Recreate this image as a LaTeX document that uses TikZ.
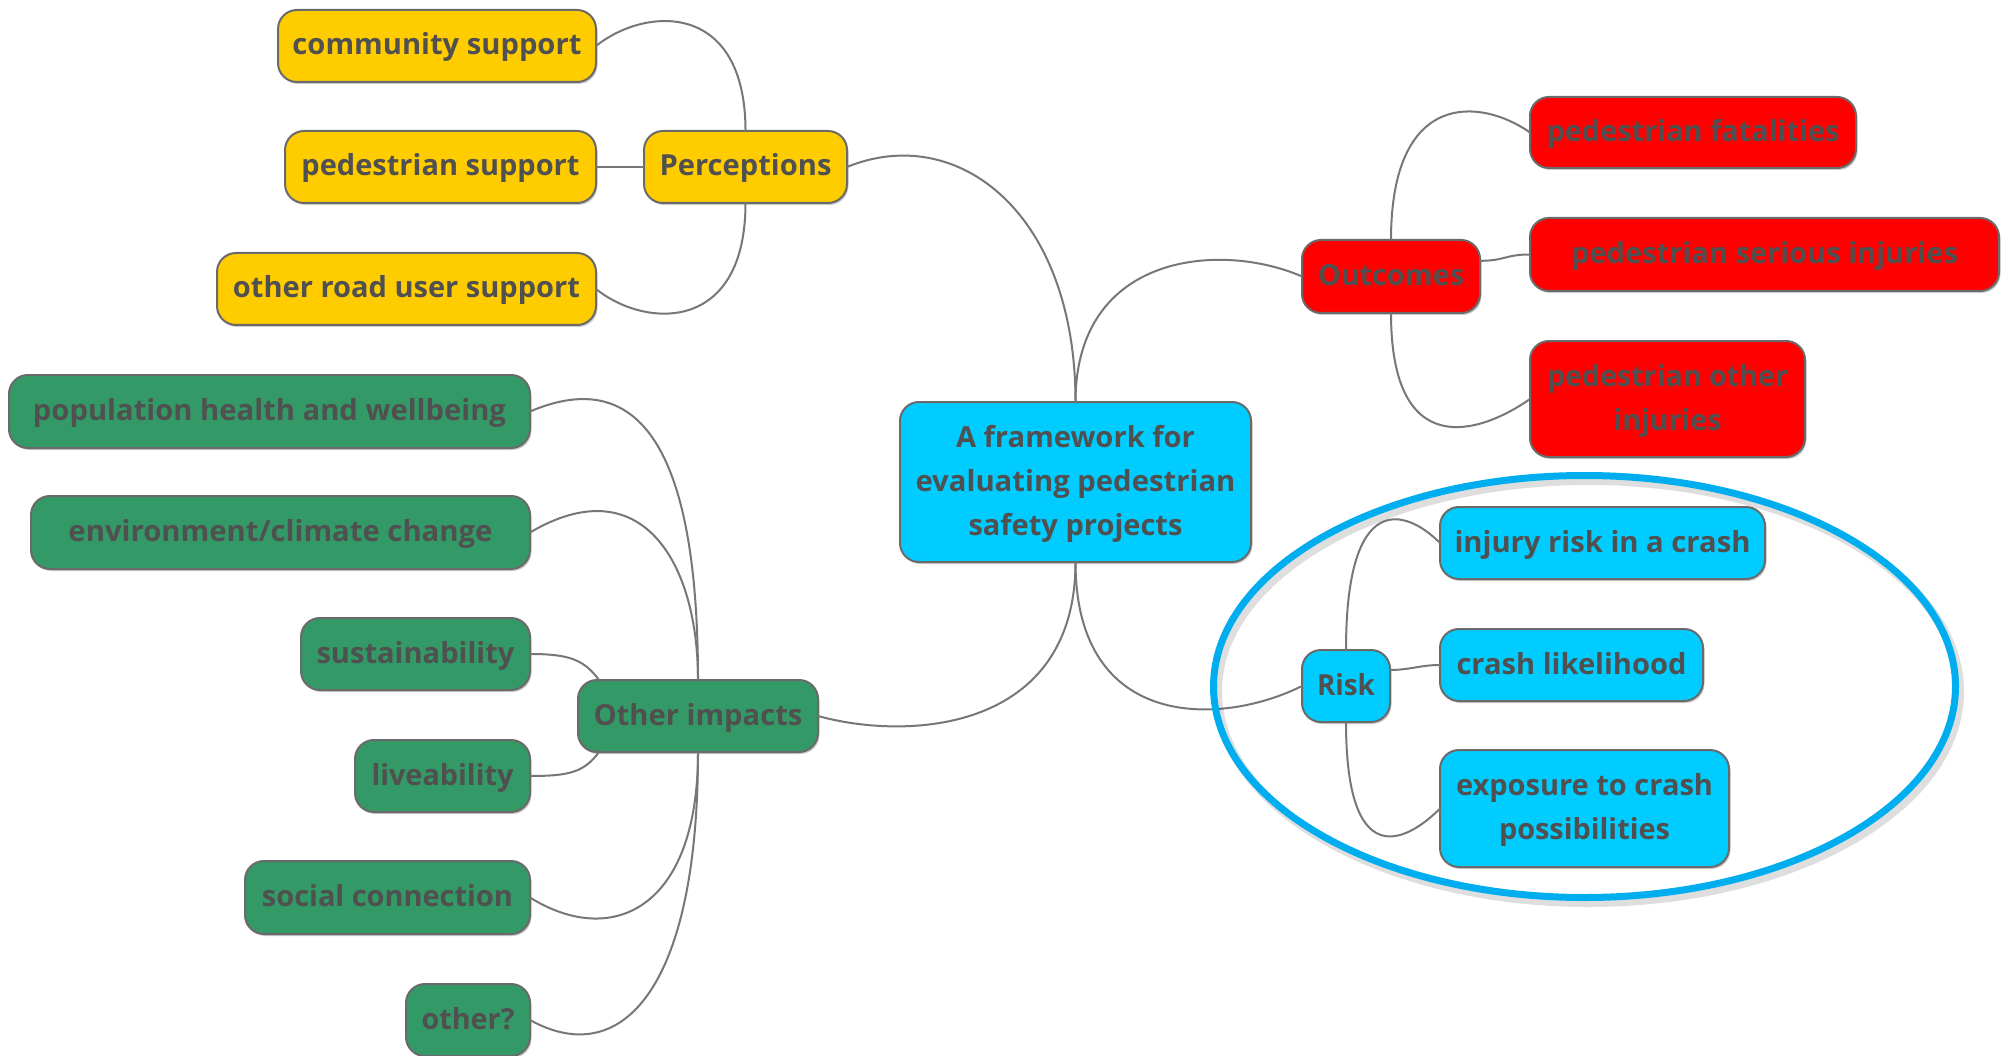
\documentclass[tikz,border=0pt]{standalone}
\usepackage{fontspec}
\usepackage{graphicx}
\setmainfont{Open Sans}
\usetikzlibrary{shapes.geometric,shadows}

\definecolor{ylw}{HTML}{FFCC00}
\definecolor{rd}{HTML}{FF0000}
\definecolor{cyn}{HTML}{00CCFF}
\definecolor{grn}{HTML}{339966}
\definecolor{boxedge}{HTML}{6A6A6A}
\definecolor{txt}{HTML}{505050}
\definecolor{linkcol}{HTML}{777777}
\definecolor{ringcol}{HTML}{00AEEF}

% set a line of text to a given width (horizontal scaling only)
\newcommand{\fitw}[2]{\resizebox{#1pt}{\height}{#2}}

\tikzset{
  topic/.style={draw=boxedge, line width=2pt, rounded corners=19pt,
    text=txt, font=\bfseries\fontsize{29}{44}\selectfont, align=center,
    inner sep=0pt, outer sep=0pt, text height=24pt, text depth=6pt,
    drop shadow={shadow xshift=1.5pt, shadow yshift=-2pt, opacity=0.2, fill=black}},
  twolines/.style={text height=68pt},
  threelines/.style={text height=112pt},
  yellowbox/.style={topic, fill=ylw},
  redbox/.style={topic, fill=rd},
  cyanbox/.style={topic, fill=cyn},
  greenbox/.style={topic, fill=grn},
  link/.style={draw=linkcol, line width=2pt},
}

\begin{document}
\begin{tikzpicture}[x=1pt, y=-1pt]
\clip (0,0) rectangle (2001,1056);
\fill[white] (0,0) rectangle (2001,1056);

% central topic
\node[cyanbox, threelines, minimum width=351pt, minimum height=160pt] (ctr) at (1075.5,482)
  {\fitw{239}{A framework for}\\\fitw{320}{evaluating pedestrian}\\\fitw{214}{safety projects}};

% perceptions branch
\node[yellowbox, minimum width=203pt, minimum height=72pt] (per) at (745.5,167) {\fitw{172}{Perceptions}};
\node[yellowbox, minimum width=318pt, minimum height=72pt] (cs) at (437,46) {\fitw{289}{community support}};
\node[yellowbox, minimum width=311pt, minimum height=72pt] (ps) at (440.5,167) {\fitw{278}{pedestrian support}};
\node[yellowbox, minimum width=379pt, minimum height=72pt] (ors) at (406.5,289) {\fitw{347}{other road user support}};

% outcomes branch
\node[redbox, minimum width=178pt, minimum height=73pt] (out) at (1391,276.5) {\fitw{146}{Outcomes}};
\node[redbox, minimum width=326pt, minimum height=71pt] (fat) at (1693,132.5) {\fitw{293}{pedestrian fatalities}};
\node[redbox, minimum width=469pt, minimum height=73pt] (ser) at (1764.5,254.5) {\fitw{387}{pedestrian serious injuries}};
\node[redbox, twolines, minimum width=275pt, minimum height=116pt] (oth) at (1667.5,399)
  {\fitw{241}{pedestrian other}\\\fitw{108}{injuries}};

% risk branch
\node[cyanbox, minimum width=88pt, minimum height=72pt] (risk) at (1346,686) {\fitw{58}{Risk}};
\node[cyanbox, minimum width=325pt, minimum height=72pt] (inj) at (1602.5,543) {\fitw{296}{injury risk in a crash}};
\node[cyanbox, minimum width=263pt, minimum height=72pt] (lik) at (1571.5,665) {\fitw{230}{crash likelihood}};
\node[cyanbox, twolines, minimum width=289pt, minimum height=117pt] (expo) at (1584.5,808.5)
  {\fitw{257}{exposure to crash}\\\fitw{171}{possibilities}};

% other impacts branch
\node[greenbox, minimum width=240pt, minimum height=72pt] (oi) at (698,716) {\fitw{209}{Other impacts}};
\node[greenbox, minimum width=521pt, minimum height=73pt] (pop) at (269.5,411.5) {\fitw{473}{population health and wellbeing}};
\node[greenbox, minimum width=499pt, minimum height=73pt] (env) at (280.5,532.5) {\fitw{424}{environment/climate change}};
\node[greenbox, minimum width=229pt, minimum height=72pt] (sus) at (415.5,654) {\fitw{198}{sustainability}};
\node[greenbox, minimum width=175pt, minimum height=72pt] (liv) at (442.5,776) {\fitw{142}{liveability}};
\node[greenbox, minimum width=285pt, minimum height=73pt] (soc) at (387.5,897.5) {\fitw{251}{social connection}};
\node[greenbox, minimum width=124pt, minimum height=72pt] (oq) at (468,1020) {\fitw{93}{other?}};

% connectors from the central topic
\draw[link] (ctr.north) .. controls +(0,-190) and +(110,-45) .. (per.east);
\draw[link] (ctr.north) .. controls +(0,-150) and +(-80,-35) .. (out.west);
\draw[link] (ctr.south) .. controls +(0,170) and +(90,25) .. (oi.east);
\draw[link] (ctr.south) .. controls +(0,170) and +(-80,40) .. (risk.west);

% perceptions
\draw[link] (per.north) .. controls +(0,-130) and +(50,-40) .. (cs.east);
\draw[link] (per.west) -- (ps.east);
\draw[link] (per.south) .. controls +(0,130) and +(50,40) .. (ors.east);

% outcomes
\draw[link] (out.north) .. controls +(0,-150) and +(-50,-35) .. (fat.west);
\draw[link] (out.10) .. controls +(25,0) and +(-25,0) .. (ser.west);
\draw[link] (out.south) .. controls +(0,150) and +(-50,35) .. (oth.west);

% risk
\draw[link] (risk.north) .. controls +(0,-160) and +(-35,-35) .. (inj.west);
\draw[link] (risk.20) .. controls +(20,0) and +(-20,0) .. (lik.west);
\draw[link] (risk.south) .. controls +(0,150) and +(-35,35) .. (expo.west);

% other impacts
\draw[link] (oi.north) .. controls +(0,-230) and +(110,-47) .. (pop.east);
\draw[link] (oi.north) .. controls +(0,-120) and +(110,-65) .. (env.east);
\draw[link] (sus.east) .. controls +(40,0) and +(-15,-20) .. (oi.160);
\draw[link] (liv.east) .. controls +(40,0) and +(-15,20) .. (oi.200);
\draw[link] (oi.south) .. controls +(0,160) and +(80,50) .. (soc.east);
\draw[link] (oi.south) .. controls +(0,240) and +(90,50) .. (oq.east);

% highlight ring around the risk branch
\node[ellipse, draw=black, draw opacity=0.13, line width=9pt, inner sep=0pt,
  minimum width=742pt, minimum height=422pt] (ringshade) at (1588.5,691.5) {};
\node[ellipse, draw=ringcol, line width=7pt, inner sep=0pt,
  minimum width=742pt, minimum height=422pt] (ring) at (1584.5,686.5) {};
\end{tikzpicture}
\end{document}
